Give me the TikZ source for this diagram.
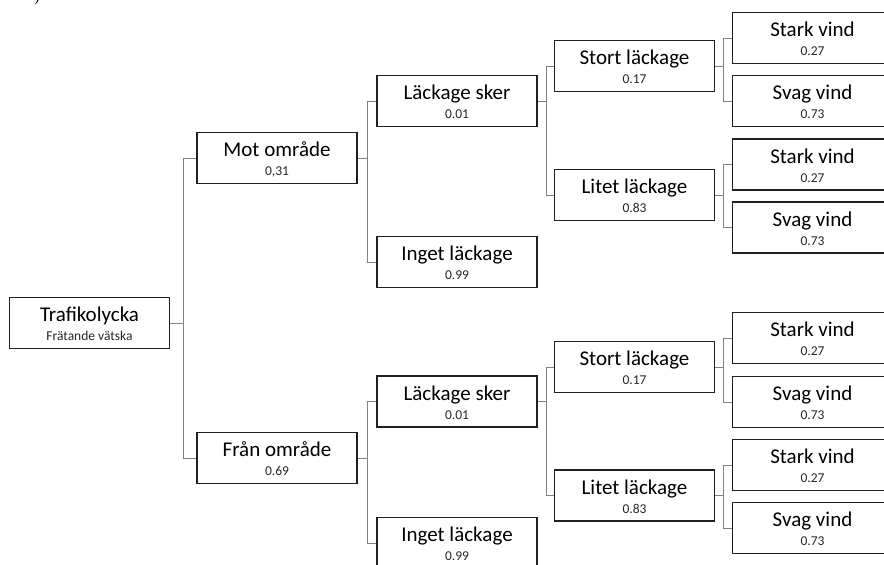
\documentclass[tikz,border=0pt]{standalone}
\usepackage{fontspec}
\setmainfont{Carlito}
\newfontfamily\serifx{Liberation Serif}
\usetikzlibrary{calc}
\definecolor{boxc}{HTML}{1F1F1F}
\definecolor{connc}{HTML}{808080}
\definecolor{numc}{HTML}{262626}
\newcommand\tbox[5]{%
  \node[box] (#1) at (#2,#3) {};
  \node[ttl, anchor=base] (#1t) at ($(#1.north)+(0,25)$) {#4};
  \node[num, anchor=base] (#1n) at ($(#1.north)+(0,44)$) {#5};
}
\newcommand\branch[4]{%
  \path (#1.east) ++(#4,0) coordinate (#1j);
  \draw[conn] (#1.east) -- (#1j);
  \draw[conn] (#2.west) -- (#2.west -| #1j) -- (#3.west -| #1j) -- (#3.west);
}
\begin{document}
\begin{tikzpicture}[x=1pt,y=-1pt,
  box/.style={draw=boxc, line width=1.15pt, minimum width=160pt, minimum height=51pt, inner sep=0pt, fill=white},
  ttl/.style={inner sep=0pt, font=\fontsize{21}{24}\selectfont, text=black},
  num/.style={inner sep=0pt, font=\fontsize{13.5}{16}\selectfont, text=numc},
  conn/.style={draw=connc, line width=0.9pt}]
\useasboundingbox (0,0) rectangle (884,565);
\clip (0,0) rectangle (884,565);
\node[font=\serifx\fontsize{16}{16}\selectfont, anchor=south, inner sep=0pt] (paren) at (37,5.5) {)};

\tbox{traf}{89.5}{323}{Trafikolycka}{Frätande vätska}
\tbox{mot}{277}{158}{Mot område}{0,31}
\tbox{fran}{277}{458}{Från område}{0.69}
\tbox{lsA}{457}{101}{Läckage sker}{0.01}
\tbox{ilA}{457}{262}{Inget läckage}{0.99}
\tbox{lsB}{457}{401.5}{Läckage sker}{0.01}
\tbox{ilB}{457}{543}{Inget läckage}{0.99}
\tbox{slA}{634.5}{66}{Stort läckage}{0.17}
\tbox{llA}{634.5}{195}{Litet läckage}{0.83}
\tbox{slB}{634.5}{367}{Stort läckage}{0.17}
\tbox{llB}{634.5}{495.5}{Litet läckage}{0.83}
\tbox{sA1}{812.5}{38}{Stark vind}{0.27}
\tbox{wA1}{812.5}{101}{Svag vind}{0.73}
\tbox{sA2}{812.5}{164.5}{Stark vind}{0.27}
\tbox{wA2}{812.5}{227.5}{Svag vind}{0.73}
\tbox{sB1}{812.5}{338}{Stark vind}{0.27}
\tbox{wB1}{812.5}{402}{Svag vind}{0.73}
\tbox{sB2}{812.5}{465}{Stark vind}{0.27}
\tbox{wB2}{812.5}{528}{Svag vind}{0.73}

\branch{traf}{mot}{fran}{13}
\branch{mot}{lsA}{ilA}{10}
\branch{fran}{lsB}{ilB}{10}
\branch{lsA}{slA}{llA}{9}
\branch{lsB}{slB}{llB}{9}
\branch{slA}{sA1}{wA1}{8}
\branch{llA}{sA2}{wA2}{8}
\branch{slB}{sB1}{wB1}{8}
\branch{llB}{sB2}{wB2}{8}
\end{tikzpicture}
\end{document}
